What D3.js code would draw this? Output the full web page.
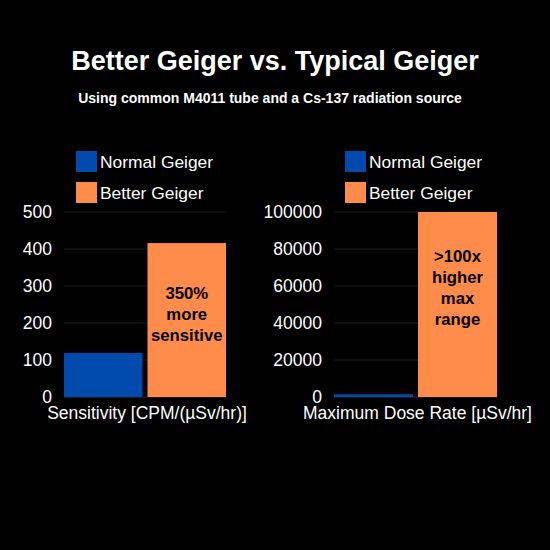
<!DOCTYPE html>
<html><head><meta charset="utf-8">
<script src="https://cdn.jsdelivr.net/npm/d3@7"></script>
<style>body{margin:0;background:#000}</style>
</head><body>
<svg id="c" width="550" height="550"></svg>
<script>
var series = ["Normal Geiger", "Better Geiger"],
    colors = ["#0049ad", "#ff8c4a"],
    sensValues = [119, 416],
    sensTicks = [0, 100, 200, 300, 400, 500],
    doseValues = [1500, 100000],
    doseTicks = [0, 20000, 40000, 60000, 80000, 100000];

var svg = d3.select("#c");
svg.append("rect").attr("width", 550).attr("height", 550).attr("fill", "#000");
svg.append("text").attr("x", 275).attr("y", 70).attr("text-anchor", "middle")
   .attr("fill", "#fff").attr("font-family", "Liberation Sans, Arial").attr("font-weight", "bold")
   .attr("font-size", 27).text("Better Geiger vs. Typical Geiger");
svg.append("text").attr("x", 270).attr("y", 103).attr("text-anchor", "middle")
   .attr("fill", "#fff").attr("font-family", "Liberation Sans, Arial").attr("font-weight", "bold")
   .attr("font-size", 14).text("Using common M4011 tube and a Cs-137 radiation source");

function panel(x0, x1, vals, ticks, xlabel, note, noteY, legendX) {
  var g = svg.append("g");
  var y = d3.scaleLinear().domain([0, ticks[ticks.length - 1]]).range([397, 212]);
  var x = d3.scaleBand().domain(series).range([x0, x1]).paddingInner(0.06);
  ticks.forEach(function(t) {
    g.append("line").attr("x1", x0).attr("x2", x1).attr("y1", y(t)).attr("y2", y(t))
     .attr("stroke", t === 0 ? "#333" : "#1c1c1c");
    g.append("text").attr("x", x0 - 12).attr("y", y(t) + 6).attr("text-anchor", "end")
     .attr("fill", "#fff").attr("font-family", "Liberation Sans, Arial").attr("font-size", 17.5).text(t);
  });
  g.selectAll("rect.bar").data(vals).enter().append("rect").attr("class", "bar")
   .attr("x", function(d, i) { return x(series[i]); })
   .attr("width", x.bandwidth())
   .attr("y", function(d) { return y(d); })
   .attr("height", function(d) { return 397 - y(d); })
   .attr("fill", function(d, i) { return colors[i]; });
  var cx = x(series[1]) + x.bandwidth() / 2;
  note.forEach(function(s, i) {
    g.append("text").attr("x", cx).attr("y", noteY + i * 21).attr("text-anchor", "middle")
     .attr("fill", "#000").attr("font-family", "Liberation Sans, Arial").attr("font-weight", "bold")
     .attr("font-size", 16.7).text(s);
  });
  g.append("text").attr("x", (x0 + x1) / 2 + 2).attr("y", 419).attr("text-anchor", "middle")
   .attr("fill", "#fff").attr("font-family", "Liberation Sans, Arial").attr("font-size", 17.5).text(xlabel);
  series.forEach(function(s, i) {
    g.append("rect").attr("x", legendX).attr("y", 151 + i * 31).attr("width", 21).attr("height", 21).attr("fill", colors[i]);
    g.append("text").attr("x", legendX + 24).attr("y", 168 + i * 31).attr("fill", "#fff")
     .attr("font-family", "Liberation Sans, Arial").attr("font-size", 17.4).text(s);
  });
}
panel(64, 226, sensValues, sensTicks, "Sensitivity [CPM/(\u00b5Sv/hr)]", ["350%", "more", "sensitive"], 299, 76);
panel(334, 497, doseValues, doseTicks, "Maximum Dose Rate [\u00b5Sv/hr]", [">100x", "higher", "max", "range"], 262, 345);
</script>
</body></html>
